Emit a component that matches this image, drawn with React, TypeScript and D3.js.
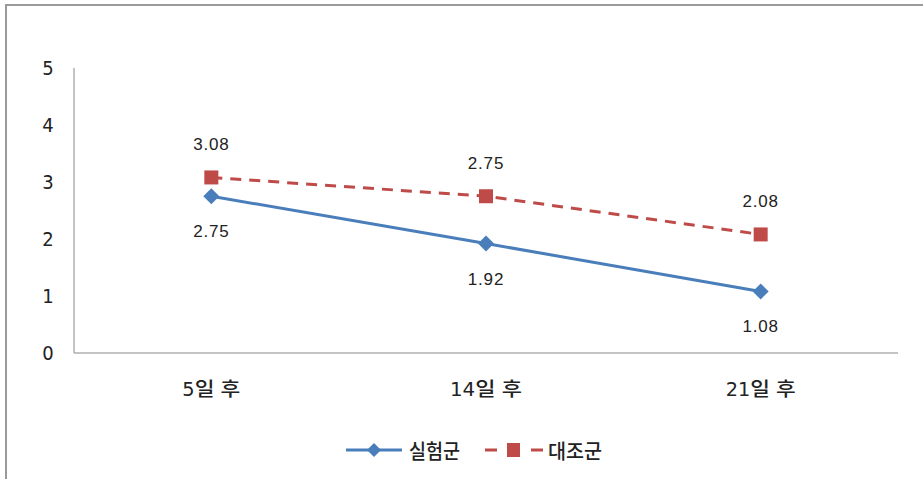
import React from "react";
import * as d3 from "d3";

const categories = ["5일 후", "14일 후", "21일 후"];
const experimental = [2.75, 1.92, 1.08];
const control = [3.08, 2.75, 2.08];
const yTicks = [0, 1, 2, 3, 4, 5];
const seriesNames = ["실험군", "대조군"];

const W = 923;
const H = 479;
const BLUE = "#4A7EBB";
const RED = "#BE4B48";

function Diamond({ x, y, r, fill }: { x: number; y: number; r: number; fill: string }) {
  return <path d={`M${x},${y - r} L${x + r},${y} L${x},${y + r} L${x - r},${y} Z`} fill={fill} />;
}

export default function App() {
  const x = d3.scaleBand<string>().domain(categories).range([74, 898]);
  const y = d3.scaleLinear().domain([0, 5]).range([353, 68]);
  const cx = (c: string) => (x(c) as number) + x.bandwidth() / 2;
  const line = d3
    .line<number>()
    .x((_, i) => cx(categories[i]))
    .y((d) => y(d));
  const font = "'DejaVu Sans Condensed', 'Liberation Sans', Arial, sans-serif";
  const krFont = "'DejaVu Sans Condensed', 'Noto Sans CJK KR', sans-serif";
  const lblFont = "'Liberation Sans', Arial, sans-serif";
  const catLen = [58, 72, 70];

  return (
    <svg
      width={W}
      height={H}
      style={{ position: "absolute", left: 0, top: 0, background: "#fff" }}
    >
      {/* outer frame */}
      <path d={`M6,${H} L6,5 L${W},5`} fill="none" stroke="#9a9a9a" strokeWidth={2} />
      {/* axes */}
      <line x1={74} y1={y(5)} x2={74} y2={y(0)} stroke="#888" strokeWidth={1} />
      <line x1={74} y1={y(0)} x2={898} y2={y(0)} stroke="#888" strokeWidth={1} />
      {yTicks.map((t) => (
        <text
          key={t}
          x={48}
          y={y(t)}
          dy="0.36em"
          textAnchor="middle"
          fontFamily={font}
          fontSize={20}
          fill="#222"
        >
          {t}
        </text>
      ))}
      {categories.map((c, i) => (
        <text
          key={c}
          x={cx(c) - catLen[i] / 2}
          y={396}
          fontFamily={krFont}
          fontSize={19}
          fontWeight={500}
          fill="#222"
          textLength={catLen[i]}
          lengthAdjust="spacingAndGlyphs"
        >
          {c}
        </text>
      ))}
      {/* control series */}
      <path
        d={line(control) as string}
        fill="none"
        stroke={RED}
        strokeWidth={3}
        strokeDasharray="11,8"
      />
      {control.map((v, i) => (
        <g key={"c" + i}>
          <rect x={cx(categories[i]) - 7} y={y(v) - 7} width={14} height={14} fill={RED} />
          <text
            x={cx(categories[i])}
            y={y(v) - 27}
            textAnchor="middle"
            fontFamily={lblFont}
            fontSize={17}
            letterSpacing={0.8}
            fill="#222"
          >
            {v.toFixed(2)}
          </text>
        </g>
      ))}
      {/* experimental series */}
      <path d={line(experimental) as string} fill="none" stroke={BLUE} strokeWidth={3} />
      {experimental.map((v, i) => (
        <g key={"e" + i}>
          <Diamond x={cx(categories[i])} y={y(v)} r={8} fill={BLUE} />
          <text
            x={cx(categories[i])}
            y={y(v) + 41}
            textAnchor="middle"
            fontFamily={lblFont}
            fontSize={17}
            letterSpacing={0.8}
            fill="#222"
          >
            {v.toFixed(2)}
          </text>
        </g>
      ))}
      {/* legend */}
      <g>
        <line x1={346} y1={450} x2={402} y2={450} stroke={BLUE} strokeWidth={3} />
        <Diamond x={374} y={450} r={7} fill={BLUE} />
        <text
          x={409}
          y={459}
          fontFamily={krFont}
          fontSize={20}
          fontWeight={500}
          fill="#222"
          textLength={51}
          lengthAdjust="spacingAndGlyphs"
        >
          {seriesNames[0]}
        </text>
        <line x1={485} y1={450} x2={497} y2={450} stroke={RED} strokeWidth={3} />
        <rect x={507} y={443} width={13} height={14} fill={RED} />
        <line x1={531} y1={450} x2={543} y2={450} stroke={RED} strokeWidth={3} />
        <text
          x={548}
          y={459}
          fontFamily={krFont}
          fontSize={20}
          fontWeight={500}
          fill="#222"
          textLength={54}
          lengthAdjust="spacingAndGlyphs"
        >
          {seriesNames[1]}
        </text>
      </g>
    </svg>
  );
}
